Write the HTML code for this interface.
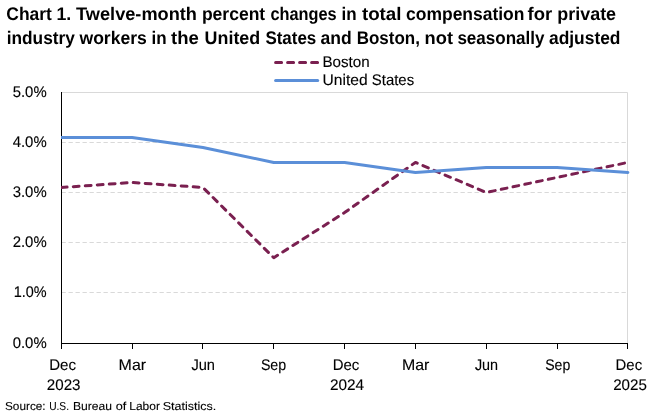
<!DOCTYPE html>
<html lang="en"><head><meta charset="utf-8"><title>Chart 1</title>
<style>html,body{margin:0;padding:0;background:#fff}svg{display:block}text{font-family:"Liberation Sans",sans-serif;fill:#000;text-rendering:geometricPrecision}.t{font-weight:bold;font-size:18.2px}.a{font-size:15.4px;stroke:#000;stroke-width:.12px}.s{font-size:11.5px;stroke:#000;stroke-width:.1px}</style></head><body>
<svg width="668" height="413" viewBox="0 0 668 413">
<rect width="668" height="413" fill="#fff"/>
<path d="M61.5 92.5H627.5V343.5" fill="none" stroke="#d9d9d9" stroke-width="1"/>
<line x1="61.5" x2="627.5" y1="292.5" y2="292.5" stroke="#d9d9d9" stroke-width="1" stroke-dasharray="4.3 2.7"/>
<line x1="61.5" x2="627.5" y1="242.5" y2="242.5" stroke="#d9d9d9" stroke-width="1" stroke-dasharray="4.3 2.7"/>
<line x1="61.5" x2="627.5" y1="192.5" y2="192.5" stroke="#d9d9d9" stroke-width="1" stroke-dasharray="4.3 2.7"/>
<line x1="61.5" x2="627.5" y1="142.5" y2="142.5" stroke="#d9d9d9" stroke-width="1" stroke-dasharray="4.3 2.7"/>
<path d="M61.5 92.0V349.0M61.0 343.5H628.0" fill="none" stroke="#000" stroke-width="1"/>
<line x1="132.5" x2="132.5" y1="343.5" y2="349.0" stroke="#000" stroke-width="1"/>
<line x1="202.5" x2="202.5" y1="343.5" y2="349.0" stroke="#000" stroke-width="1"/>
<line x1="273.5" x2="273.5" y1="343.5" y2="349.0" stroke="#000" stroke-width="1"/>
<line x1="344.5" x2="344.5" y1="343.5" y2="349.0" stroke="#000" stroke-width="1"/>
<line x1="415.5" x2="415.5" y1="343.5" y2="349.0" stroke="#000" stroke-width="1"/>
<line x1="486.5" x2="486.5" y1="343.5" y2="349.0" stroke="#000" stroke-width="1"/>
<line x1="557.5" x2="557.5" y1="343.5" y2="349.0" stroke="#000" stroke-width="1"/>
<line x1="627.5" x2="627.5" y1="343.5" y2="349.0" stroke="#000" stroke-width="1"/>
<clipPath id="c"><rect x="61.0" y="89.5" width="569.0" height="257.0"/></clipPath>
<g clip-path="url(#c)" fill="none" stroke-width="3" stroke-linejoin="round">
<polyline points="61.30,187.50 132.12,182.49 202.95,187.50 273.78,257.73 344.60,212.58 415.43,162.42 486.25,192.52 557.08,177.47 627.90,162.42" stroke="#7a2050" stroke-dasharray="5.8 6.22" stroke-linecap="round"/>
<polyline points="61.30,137.50 132.12,137.50 202.95,147.50 273.78,162.50 344.60,162.50 415.43,172.50 486.25,167.50 557.08,167.50 627.90,172.50" stroke="#5b8fd8" stroke-linecap="round"/>
</g>
<line x1="275.6" x2="319" y1="62.5" y2="62.5" stroke="#7a2050" stroke-width="3" stroke-dasharray="6 6" stroke-linecap="round"/>
<line x1="275.6" x2="317.7" y1="80.5" y2="80.5" stroke="#5b8fd8" stroke-width="3" stroke-linecap="round"/>
<text class="t" y="20"><tspan id="w0" x="6.30" textLength="45.60" lengthAdjust="spacingAndGlyphs">Chart</tspan> <tspan id="w1" x="56.50" textLength="14.80" lengthAdjust="spacingAndGlyphs">1.</tspan> <tspan id="w2" x="76.10" textLength="120.80" lengthAdjust="spacingAndGlyphs">Twelve-month</tspan> <tspan id="w3" x="201.90" textLength="63.30" lengthAdjust="spacingAndGlyphs">percent</tspan> <tspan id="w4" x="270.40" textLength="66.20" lengthAdjust="spacingAndGlyphs">changes</tspan> <tspan id="w5" x="341.60" textLength="15.10" lengthAdjust="spacingAndGlyphs">in</tspan> <tspan id="w6" x="361.90" textLength="39.60" lengthAdjust="spacingAndGlyphs">total</tspan> <tspan id="w7" x="406.10" textLength="118.30" lengthAdjust="spacingAndGlyphs">compensation</tspan> <tspan id="w8" x="527.50" textLength="24.60" lengthAdjust="spacingAndGlyphs">for</tspan> <tspan id="w9" x="557.30" textLength="58.80" lengthAdjust="spacingAndGlyphs">private</tspan></text>
<text class="t" y="44"><tspan id="w10" x="6.70" textLength="68.20" lengthAdjust="spacingAndGlyphs">industry</tspan> <tspan id="w11" x="79.50" textLength="67.30" lengthAdjust="spacingAndGlyphs">workers</tspan> <tspan id="w12" x="151.60" textLength="15.10" lengthAdjust="spacingAndGlyphs">in</tspan> <tspan id="w13" x="171.10" textLength="27.80" lengthAdjust="spacingAndGlyphs">the</tspan> <tspan id="w14" x="204.60" textLength="55.60" lengthAdjust="spacingAndGlyphs">United</tspan> <tspan id="w15" x="265.40" textLength="50.90" lengthAdjust="spacingAndGlyphs">States</tspan> <tspan id="w16" x="320.50" textLength="31.20" lengthAdjust="spacingAndGlyphs">and</tspan> <tspan id="w17" x="356.70" textLength="63.20" lengthAdjust="spacingAndGlyphs">Boston,</tspan> <tspan id="w18" x="424.60" textLength="28.40" lengthAdjust="spacingAndGlyphs">not</tspan> <tspan id="w19" x="457.40" textLength="87.10" lengthAdjust="spacingAndGlyphs">seasonally</tspan> <tspan id="w20" x="549.00" textLength="71.50" lengthAdjust="spacingAndGlyphs">adjusted</tspan></text>
<text id="w21" class="a" x="12.70" y="348.0" textLength="34.00" lengthAdjust="spacingAndGlyphs">0.0%</text>
<text id="w22" class="a" x="13.80" y="297.0" textLength="32.90" lengthAdjust="spacingAndGlyphs">1.0%</text>
<text id="w23" class="a" x="12.70" y="247.0" textLength="34.00" lengthAdjust="spacingAndGlyphs">2.0%</text>
<text id="w24" class="a" x="12.70" y="197.0" textLength="34.00" lengthAdjust="spacingAndGlyphs">3.0%</text>
<text id="w25" class="a" x="12.70" y="147.0" textLength="34.00" lengthAdjust="spacingAndGlyphs">4.0%</text>
<text id="w26" class="a" x="12.70" y="97.0" textLength="34.00" lengthAdjust="spacingAndGlyphs">5.0%</text>
<text id="w27" class="a" x="49.20" y="370" textLength="26.80" lengthAdjust="spacingAndGlyphs">Dec</text>
<text id="w28" class="a" x="118.60" y="370" textLength="27.50" lengthAdjust="spacingAndGlyphs">Mar</text>
<text id="w29" class="a" x="191.40" y="370" textLength="23.60" lengthAdjust="spacingAndGlyphs">Jun</text>
<text id="w30" class="a" x="260.90" y="370" textLength="25.30" lengthAdjust="spacingAndGlyphs">Sep</text>
<text id="w31" class="a" x="332.70" y="370" textLength="26.60" lengthAdjust="spacingAndGlyphs">Dec</text>
<text id="w32" class="a" x="401.90" y="370" textLength="27.40" lengthAdjust="spacingAndGlyphs">Mar</text>
<text id="w33" class="a" x="474.90" y="370" textLength="23.20" lengthAdjust="spacingAndGlyphs">Jun</text>
<text id="w34" class="a" x="545.20" y="370" textLength="25.10" lengthAdjust="spacingAndGlyphs">Sep</text>
<text id="w35" class="a" x="615.60" y="370" textLength="26.50" lengthAdjust="spacingAndGlyphs">Dec</text>
<text id="w36" class="a" x="46.80" y="390" textLength="33.70" lengthAdjust="spacingAndGlyphs">2023</text>
<text id="w37" class="a" x="330.00" y="390" textLength="34.10" lengthAdjust="spacingAndGlyphs">2024</text>
<text id="w38" class="a" x="613.20" y="390" textLength="33.70" lengthAdjust="spacingAndGlyphs">2025</text>
<text id="w39" class="a" x="322.40" y="67" textLength="47.20" lengthAdjust="spacingAndGlyphs">Boston</text>
<text class="a" y="85"><tspan id="w40" x="322.60" textLength="45.10" lengthAdjust="spacingAndGlyphs">United</tspan> <tspan id="w41" x="371.80" textLength="42.30" lengthAdjust="spacingAndGlyphs">States</tspan></text>
<text class="s" y="410"><tspan id="w42" x="5.00" textLength="40.60" lengthAdjust="spacingAndGlyphs">Source:</tspan> <tspan id="w43" x="49.20" textLength="19.80" lengthAdjust="spacingAndGlyphs">U.S.</tspan> <tspan id="w44" x="72.90" textLength="39.10" lengthAdjust="spacingAndGlyphs">Bureau</tspan> <tspan id="w45" x="115.70" textLength="10.60" lengthAdjust="spacingAndGlyphs">of</tspan> <tspan id="w46" x="129.30" textLength="30.60" lengthAdjust="spacingAndGlyphs">Labor</tspan> <tspan id="w47" x="162.70" textLength="53.60" lengthAdjust="spacingAndGlyphs">Statistics.</tspan></text>
</svg></body></html>
